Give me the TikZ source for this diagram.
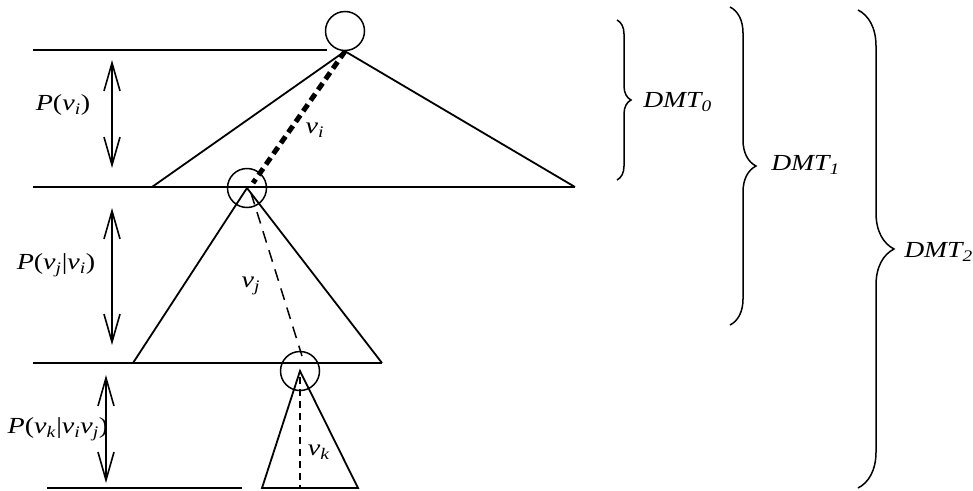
\documentclass[tikz,border=0pt]{standalone}
\usepackage{fontspec}
\setmainfont{Liberation Serif}
\usetikzlibrary{arrows.meta,decorations.pathreplacing}
\begin{document}
\begin{tikzpicture}[x=1pt,y=-1pt,
  ln/.style={line width=1.8pt},
  ring/.style={circle,draw,line width=1.5pt,minimum size=39pt,inner sep=0pt},
  dbl/.style={line width=1.6pt,{Straight Barb[length=28pt,width=16pt]}-{Straight Barb[length=28pt,width=16pt]}},
  thickdash/.style={line width=5pt,dash pattern=on 8pt off 5pt},
  thindash/.style={line width=1.5pt,dash pattern=on 12pt off 8pt},
  lbl/.style={font=\fontsize{23}{25}\selectfont,inner sep=0pt,xscale=1.22},
  dmt/.style={font=\fontsize{23}{25}\selectfont\itshape,inner sep=0pt,anchor=west,xscale=1.2},
  br/.style={line width=1.5pt,decorate,decoration={brace,amplitude=#1}}]
\useasboundingbox (0,0) rectangle (973,490);
% circles
\node[ring] (c0) at (345,31) {};
\node[ring] (c1) at (247,188) {};
\node[ring] (c2) at (300,371) {};
% level lines
\coordinate (l0a) at (33,50);  \coordinate (l0b) at (327,50);
\coordinate (l1a) at (33,187); \coordinate (t0r) at (575,187);
\coordinate (t0l) at (152,187);
\coordinate (l2a) at (33,363); \coordinate (t1r) at (382,363);
\coordinate (t1l) at (133,363);
\coordinate (l3a) at (47,488); \coordinate (l3b) at (242,488);
\coordinate (t2l) at (262,488); \coordinate (t2r) at (358,488);
\coordinate (t2m) at (300,488);
\draw[ln] (l0a) -- (l0b);
\draw[ln] (l1a) -- (t0r);
\draw[ln] (l2a) -- (t1r);
\draw[ln] (l3a) -- (l3b);
% triangles
\draw[ln] (t0l) -- (c0.south) -- (t0r);
\draw[ln] (t1l) -- (c1.center) -- (t1r);
\draw[ln] (t2l) -- (c2.center) -- (t2r) -- cycle;
% paths
\coordinate (e0) at (253,183);
\draw[thickdash] (c0.south) -- (e0);
\coordinate (s1) at (251,193);
\coordinate (e1) at (302,356);
\draw[thindash] (s1) -- (e1);
\coordinate (s2) at (300,377);
\draw[thindash,line width=1.3pt,dash pattern=on 7pt off 5pt] (s2) -- (t2m);
% arrows
\coordinate (a0t) at (112,60);  \coordinate (a0b) at (112,168);
\coordinate (a1t) at (112,208); \coordinate (a1b) at (112,345);
\coordinate (a2t) at (106,375); \coordinate (a2b) at (106,483);
\draw[dbl] (a0t) -- (a0b);
\draw[dbl] (a1t) -- (a1b);
\draw[dbl] (a2t) -- (a2b);
% labels
\node[lbl] (p0) at (63,105) {\textit{P}(\textit{v}\textsubscript{\textit{i}})};
\node[lbl] (p1) at (56,265) {\textit{P}(\textit{v}\textsubscript{\textit{j}}|\textit{v}\textsubscript{\textit{i}})};
\node[lbl] (p2) at (58,429) {\textit{P}(\textit{v}\textsubscript{\textit{k}}|\textit{v}\textsubscript{\textit{i}}\textit{v}\textsubscript{\textit{j}})};
\node[lbl] (vi) at (315,130) {\textit{v}\textsubscript{\textit{i}}};
\node[lbl] (vj) at (251,286) {\textit{v}\textsubscript{\textit{j}}};
\node[lbl] (vk) at (319,452) {\textit{v}\textsubscript{\textit{k}}};
% braces
\coordinate (b0t) at (617,20);  \coordinate (b0b) at (617,180);
\coordinate (b1t) at (730,7);   \coordinate (b1b) at (730,325);
\coordinate (b2t) at (858,10);  \coordinate (b2b) at (858,488);
\draw[br=14pt] (b0t) -- (b0b);
\draw[br=26pt] (b1t) -- (b1b);
\draw[br=36pt] (b2t) -- (b2b);
\node[dmt] (d0) at (643,102) {DMT\textsubscript{0}};
\node[dmt] (d1) at (771,165) {DMT\textsubscript{1}};
\node[dmt] (d2) at (904,252) {DMT\textsubscript{2}};
\end{tikzpicture}
\end{document}
